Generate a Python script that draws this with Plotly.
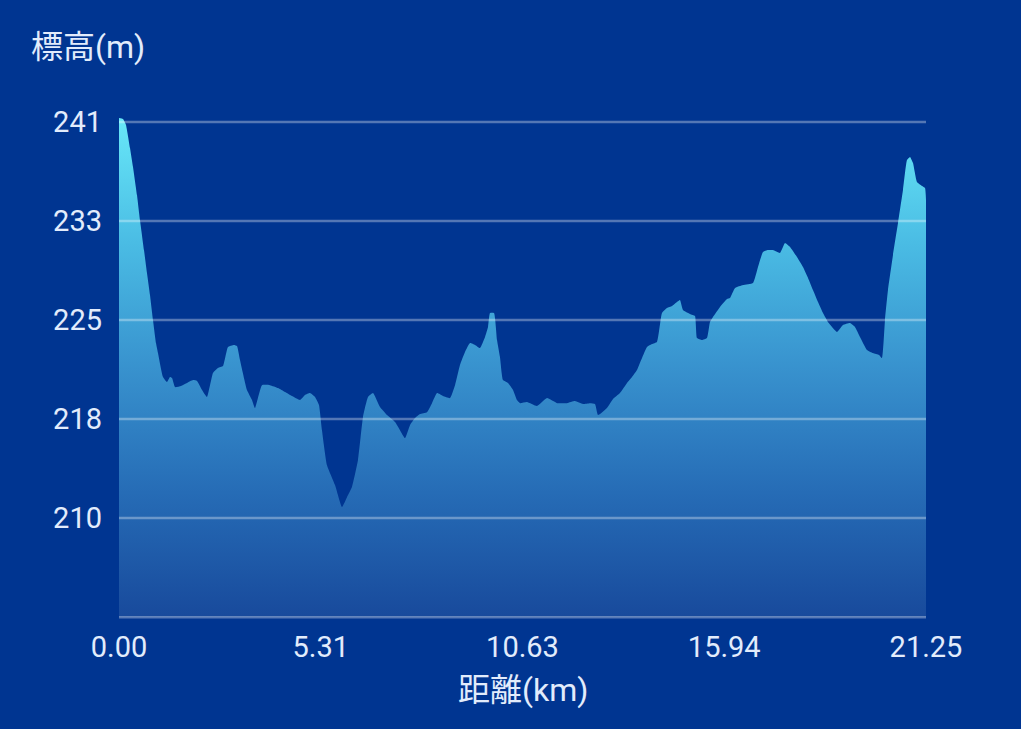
import plotly.graph_objects as go

# Distance (km) and elevation (m)
DIST_KM = [0.000, 0.105, 0.184, 0.290, 0.369, 0.474, 0.553, 0.658, 0.737, 0.816,
           0.895, 0.974, 1.027, 1.159, 1.264, 1.343, 1.396, 1.475, 1.633, 1.791,
           1.949, 2.054, 2.186, 2.317, 2.475, 2.607, 2.739, 2.870, 3.028, 3.107,
           3.186, 3.370, 3.502, 3.581, 3.765, 3.976, 4.187, 4.371, 4.555, 4.766,
           4.898, 5.029, 5.161, 5.266, 5.345, 5.477, 5.688, 5.872, 6.004, 6.135,
           6.293, 6.425, 6.557, 6.688, 6.873, 7.057, 7.268, 7.399, 7.531, 7.663,
           7.794, 7.926, 8.110, 8.242, 8.374, 8.532, 8.716, 8.848, 8.979, 9.111,
           9.243, 9.374, 9.506, 9.638, 9.717, 9.769, 9.875, 9.954, 10.032, 10.111,
           10.243, 10.375, 10.480, 10.559, 10.743, 11.007, 11.270, 11.534, 11.797, 12.007,
           12.218, 12.402, 12.534, 12.613, 12.850, 13.008, 13.192, 13.377, 13.508, 13.640,
           13.772, 13.903, 14.035, 14.167, 14.298, 14.430, 14.562, 14.693, 14.772, 14.851,
           15.036, 15.167, 15.220, 15.352, 15.483, 15.562, 15.641, 15.826, 16.010, 16.089,
           16.221, 16.432, 16.695, 16.826, 16.958, 17.089, 17.221, 17.405, 17.537, 17.669,
           17.853, 18.011, 18.143, 18.274, 18.406, 18.538, 18.669, 18.775, 18.906, 19.064,
           19.249, 19.380, 19.512, 19.696, 19.854, 20.012, 20.091, 20.170, 20.249, 20.381,
           20.513, 20.644, 20.750, 20.829, 20.908, 21.013, 21.145, 21.224, 21.250]

ELEV_M = [241.11, 241.03, 240.57, 238.78, 237.30, 235.12, 233.18, 230.84, 229.06, 227.34,
          225.40, 223.61, 222.83, 220.97, 220.58, 220.97, 220.89, 220.19, 220.27, 220.50,
          220.73, 220.66, 219.96, 219.41, 221.28, 221.67, 221.82, 223.30, 223.46, 223.38,
          222.29, 219.96, 219.18, 218.56, 220.34, 220.34, 220.11, 219.80, 219.49, 219.18,
          219.57, 219.72, 219.41, 218.79, 216.84, 214.12, 212.57, 210.86, 211.63, 212.41,
          214.51, 217.86, 219.41, 219.72, 218.63, 218.01, 217.47, 216.84, 216.22, 217.23,
          217.78, 218.09, 218.24, 218.94, 219.72, 219.49, 219.33, 220.34, 221.90, 222.91,
          223.61, 223.46, 223.22, 224.08, 224.86, 225.94, 225.94, 223.84, 222.52, 220.73,
          220.50, 219.96, 219.18, 218.94, 219.02, 218.71, 219.33, 218.94, 218.94, 219.10,
          218.87, 218.94, 218.87, 218.01, 218.56, 219.26, 219.72, 220.50, 220.97, 221.51,
          222.44, 223.30, 223.53, 223.69, 225.94, 226.33, 226.49, 226.80, 226.96, 226.18,
          225.87, 225.71, 224.00, 223.84, 224.00, 225.24, 225.63, 226.41, 227.03, 227.11,
          227.89, 228.12, 228.28, 229.52, 230.69, 230.84, 230.84, 230.61, 231.39, 231.08,
          230.30, 229.52, 228.67, 227.73, 226.80, 225.94, 225.24, 224.86, 224.47, 225.01,
          225.17, 224.86, 224.08, 223.07, 222.83, 222.68, 222.44, 225.40, 227.73, 230.46,
          232.94, 235.51, 237.84, 238.08, 237.61, 236.13, 235.82, 235.67, 234.73]

X_TICK_VALUES = [0.0, 5.3125, 10.625, 15.9375, 21.25]
X_TICK_LABELS = ["0.00", "5.31", "10.63", "15.94", "21.25"]
Y_TICK_VALUES = [240.8, 233.1, 225.4, 217.7, 210.0, 202.3]
Y_TICK_LABELS = ["241", "233", "225", "218", "210", ""]

Y_TITLE = "標高(m)"
X_TITLE = "距離(km)"

BG = "rgb(0,53,145)"
TEXT = "rgb(226,236,252)"
GRID = "rgba(255,255,255,0.33)"
FONT = "Roboto, Noto Sans CJK JP, sans-serif"

base = min(Y_TICK_VALUES)

fig = go.Figure()
fig.add_trace(go.Scatter(
    x=DIST_KM, y=[base] * len(DIST_KM), mode="lines",
    line=dict(width=0), hoverinfo="skip", showlegend=False))
fig.add_trace(go.Scatter(
    x=DIST_KM, y=ELEV_M, mode="lines", fill="tonexty",
    line=dict(width=0, shape="spline", smoothing=0.4),
    hoverinfo="skip",
    fillgradient=dict(
        type="vertical", start=base, stop=max(ELEV_M),
        colorscale=[[0.0, "rgb(24,74,156)"], [0.25, "rgb(38,108,182)"],
                    [0.5, "rgb(56,146,206)"], [0.75, "rgb(74,188,228)"],
                    [1.0, "rgb(104,232,248)"]]),
    showlegend=False))

for v in Y_TICK_VALUES:
    fig.add_shape(type="line", xref="paper", yref="y", x0=0, x1=1, y0=v, y1=v,
                  line=dict(color=GRID, width=2.5), layer="above")

fig.add_annotation(text=Y_TITLE, xref="paper", yref="paper", x=-0.112, y=1.124,
                   xanchor="left", yanchor="middle", showarrow=False,
                   font=dict(family=FONT, size=32, color=TEXT))
fig.add_annotation(text=X_TITLE, xref="paper", yref="paper", x=0.5, y=-0.135,
                   xanchor="center", yanchor="middle", showarrow=False,
                   font=dict(family=FONT, size=32, color=TEXT))

fig.update_layout(
    width=1021, height=729,
    margin=dict(l=119, r=95, t=110, b=108),
    paper_bgcolor=BG, plot_bgcolor=BG,
    font=dict(family=FONT, color=TEXT),
    hovermode=False,
    xaxis=dict(range=[0, 21.25], tickvals=X_TICK_VALUES, ticktext=X_TICK_LABELS,
               showgrid=False, zeroline=False, showline=False, ticks="",
               tickfont=dict(size=29, color=TEXT), ticklabelstandoff=6),
    yaxis=dict(range=[202.0, 241.733], tickvals=Y_TICK_VALUES, ticktext=Y_TICK_LABELS,
               showgrid=False, zeroline=False, showline=False, ticks="",
               tickfont=dict(size=29, color=TEXT), ticklabelstandoff=16),
)

fig.write_html("out.html",
               config={"displayModeBar": False, "staticPlot": True},
               post_script="document.body.style.margin='0';"
                           "document.body.style.background='rgb(0,53,145)';")
